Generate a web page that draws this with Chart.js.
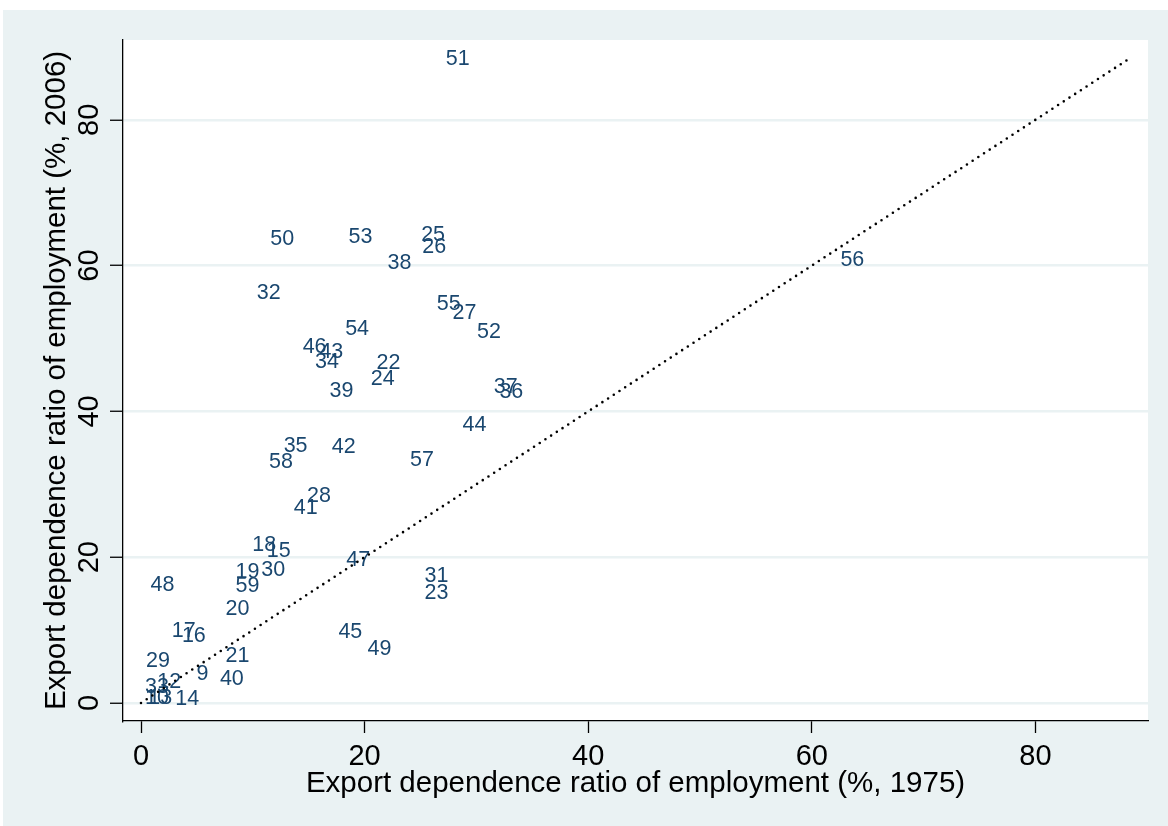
<!DOCTYPE html>
<html>
<head>
<meta charset="utf-8">
<script src="https://cdn.jsdelivr.net/npm/chart.js@4.4.0/dist/chart.umd.min.js"></script>
<style>
  html, body { margin: 0; background: #fff; }
  #myChart { position: absolute; left: 3px; top: 10px; }
</style>
</head>
<body>
<canvas id="myChart" width="1165" height="816"></canvas>
<script>
// sector ids used as marker labels
const ids = [9, 10, 12, 13, 14, 15, 16, 17, 18, 19, 20, 21, 22, 23, 24, 25, 26, 27, 28, 29,
             30, 31, 32, 33, 34, 35, 36, 37, 38, 39, 40, 41, 42, 43, 44, 45, 46, 47, 48, 49,
             50, 51, 52, 53, 54, 55, 56, 57, 58, 59];
// export dependence ratio of employment, 1975 (%)
const exp1975 = [4.6, 0.0, 1.1, 0.3, 2.7, 10.9, 3.3, 2.4, 9.6, 8.1, 7.2, 7.2, 20.7, 25.0, 20.2, 24.7, 24.8, 27.5, 14.5, 0.1,
                 10.4, 25.0, 10.0, 0.0, 15.2, 12.4, 31.7, 31.2, 21.7, 16.5, 6.7, 13.3, 16.7, 15.6, 28.4, 17.3, 14.1, 18.0, 0.5, 19.9,
                 11.2, 26.9, 29.7, 18.2, 17.9, 26.1, 62.2, 23.7, 11.1, 8.1];
// export dependence ratio of employment, 2006 (%)
const exp2006 = [3.9, 0.7, 2.9, 0.7, 0.6, 20.9, 9.2, 9.8, 21.7, 18.0, 12.9, 6.5, 46.6, 15.1, 44.4, 64.2, 62.5, 53.5, 28.4, 5.8,
                 18.3, 17.4, 56.2, 2.2, 46.8, 35.2, 42.7, 43.4, 60.3, 42.8, 3.3, 26.8, 35.1, 48.1, 38.1, 9.7, 48.8, 19.6, 16.2, 7.4,
                 63.6, 88.3, 50.9, 63.9, 51.3, 54.7, 60.7, 33.3, 33.0, 16.0];
const tickVals = [0, 20, 40, 60, 80];
const xTitle = 'Export dependence ratio of employment (%, 1975)';
const yTitle = 'Export dependence ratio of employment (%, 2006)';

const points = ids.map((id, i) => ({ x: exp1975[i], y: exp2006[i] }));
// 45-degree reference line over the range of the data
const lo = Math.min(...exp1975, ...exp2006);
const hi = Math.max(...exp1975, ...exp2006);

const BG = '#eaf2f3';
const NAVY = '#1a476f';
const FONT = '"Liberation Sans", Arial, sans-serif';

const stataLook = {
    id: 'stataLook',
    beforeDraw(chart) {
        const { ctx, chartArea: a } = chart;
        ctx.save();
        ctx.fillStyle = BG;
        ctx.fillRect(0, 0, chart.width, chart.height);
        ctx.fillStyle = '#fff';
        ctx.fillRect(a.left, a.top, a.right - a.left, a.bottom - a.top);
        ctx.restore();
    },
    afterDatasetDraw(chart, args) {
        if (args.index !== 0) return;
        const ctx = chart.ctx;
        ctx.save();
        ctx.fillStyle = NAVY;
        ctx.font = '21.5px ' + FONT;
        ctx.textAlign = 'left';
        ctx.textBaseline = 'middle';
        args.meta.data.forEach((pt, i) => {
            ctx.fillText(String(ids[i]), pt.x + 4, pt.y);
        });
        ctx.restore();
    },
    afterDraw(chart) {
        const { ctx, chartArea: a, scales } = chart;
        ctx.save();
        ctx.fillStyle = '#000';
        ctx.textAlign = 'center';
        ctx.textBaseline = 'alphabetic';
        ctx.font = '29px ' + FONT;
        tickVals.forEach(v => {
            ctx.fillText(String(v), scales.x.getPixelForValue(v), 755);
            ctx.save();
            ctx.translate(95, scales.y.getPixelForValue(v));
            ctx.rotate(-Math.PI / 2);
            ctx.fillText(String(v), 0, 0);
            ctx.restore();
        });
        ctx.font = '29.5px ' + FONT;
        ctx.fillText(xTitle, (a.left + a.right) / 2, 782);
        ctx.translate(62, (a.top + a.bottom) / 2);
        ctx.rotate(-Math.PI / 2);
        ctx.fillText(yTitle, 0, 0);
        ctx.restore();
    }
};

const setTicks = s => { s.ticks = tickVals.map(v => ({ value: v })); };

new Chart(document.getElementById('myChart'), {
    type: 'scatter',
    data: {
        datasets: [{
            data: points,
            pointRadius: 0,
            pointHoverRadius: 0,
            order: 2
        }, {
            type: 'line',
            data: [{ x: lo, y: lo }, { x: hi, y: hi }],
            borderColor: '#000',
            borderWidth: 2.6,
            borderDash: [0, 6.8],
            borderCapStyle: 'round',
            pointRadius: 0,
            fill: false,
            order: 1
        }]
    },
    options: {
        responsive: false,
        animation: false,
        events: [],
        layout: { padding: { top: 30, right: 20, left: 0, bottom: 0 } },
        plugins: { legend: { display: false }, tooltip: { enabled: false } },
        scales: {
            x: {
                type: 'linear',
                min: -1.61,
                max: 90.07,
                afterBuildTicks: setTicks,
                afterFit: s => { s.height = 105; },
                ticks: { display: false },
                grid: { drawOnChartArea: false, tickLength: 12, tickColor: '#000', tickWidth: 1.3 },
                border: { display: true, color: '#000', width: 1.3 }
            },
            y: {
                type: 'linear',
                min: -2.47,
                max: 90.95,
                afterBuildTicks: setTicks,
                afterFit: s => { s.width = 120; },
                ticks: { display: false },
                grid: { color: BG, lineWidth: 2.5, tickLength: 13, tickColor: '#000', tickWidth: 1.3 },
                border: { display: true, color: '#000', width: 1.3 }
            }
        }
    },
    plugins: [stataLook]
});
</script>
</body>
</html>
